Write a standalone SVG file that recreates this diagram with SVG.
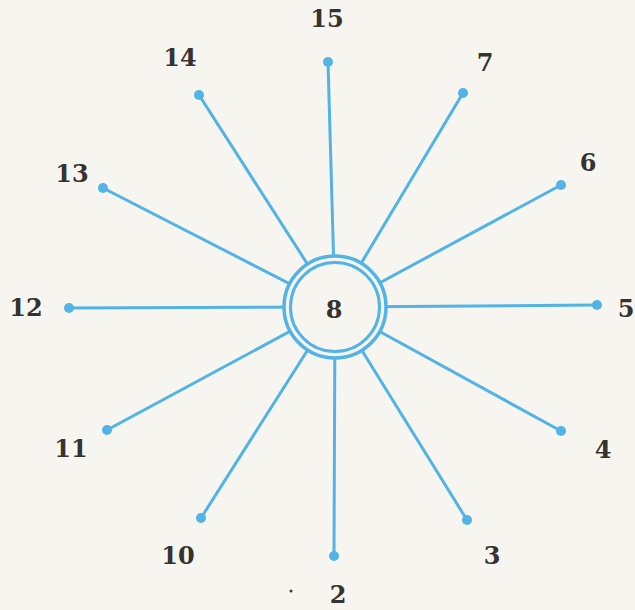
<svg xmlns="http://www.w3.org/2000/svg" width="635" height="610" viewBox="0 0 635 610">
<style>
.spoke{stroke:#52b3e6;stroke-width:3;stroke-linecap:round;fill:none}
.dot{fill:#52b3e6}
.lbl{font-family:"DejaVu Serif","Liberation Serif",serif;font-weight:bold;font-size:24px;fill:#353330;text-anchor:middle}
.ring{fill:none;stroke:#52b3e6;stroke-width:3}
</style>
<rect x="0" y="0" width="635" height="610" fill="#f7f5ef"/>
<g id="connectors">
<line class="spoke" x1="335" y1="307" x2="328" y2="62"/>
<line class="spoke" x1="335" y1="307" x2="199" y2="95"/>
<line class="spoke" x1="335" y1="307" x2="463" y2="93"/>
<line class="spoke" x1="335" y1="307" x2="103" y2="188"/>
<line class="spoke" x1="335" y1="307" x2="561" y2="185"/>
<line class="spoke" x1="335" y1="307" x2="69" y2="308"/>
<line class="spoke" x1="335" y1="307" x2="597" y2="305"/>
<line class="spoke" x1="335" y1="307" x2="107" y2="430"/>
<line class="spoke" x1="335" y1="307" x2="561" y2="431"/>
<line class="spoke" x1="335" y1="307" x2="201" y2="518"/>
<line class="spoke" x1="335" y1="307" x2="334" y2="556"/>
<line class="spoke" x1="335" y1="307" x2="467" y2="520"/>
</g>
<g id="n8">
<circle cx="335" cy="307" r="51" fill="#f7f5ef" stroke="#52b3e6" stroke-width="3.5"/>
<circle class="ring" cx="335" cy="307" r="44.5"/>
<text class="lbl" x="334" y="318">8</text>
</g>
<g id="n15"><circle class="dot" cx="328" cy="62" r="5"/><text class="lbl" x="327" y="27">15</text></g>
<g id="n14"><circle class="dot" cx="199" cy="95" r="5"/><text class="lbl" x="180" y="66">14</text></g>
<g id="n7"><circle class="dot" cx="463" cy="93" r="5"/><text class="lbl" x="485" y="71">7</text></g>
<g id="n13"><circle class="dot" cx="103" cy="188" r="5"/><text class="lbl" x="72" y="182">13</text></g>
<g id="n6"><circle class="dot" cx="561" cy="185" r="5"/><text class="lbl" x="588" y="171">6</text></g>
<g id="n12"><circle class="dot" cx="69" cy="308" r="5"/><text class="lbl" x="26" y="316">12</text></g>
<g id="n5"><circle class="dot" cx="597" cy="305" r="5"/><text class="lbl" x="626" y="317">5</text></g>
<g id="n11"><circle class="dot" cx="107" cy="430" r="5"/><text class="lbl" x="71" y="457">11</text></g>
<g id="n4"><circle class="dot" cx="561" cy="431" r="5"/><text class="lbl" x="603" y="458">4</text></g>
<g id="n10"><circle class="dot" cx="201" cy="518" r="5"/><text class="lbl" x="178" y="564">10</text></g>
<g id="n2"><circle class="dot" cx="334" cy="556" r="5"/><text class="lbl" x="338" y="603">2</text></g>
<g id="n3"><circle class="dot" cx="467" cy="520" r="5"/><text class="lbl" x="492" y="564">3</text></g>
<circle cx="291" cy="591" r="1.5" fill="#3b3936"/>
</svg>
